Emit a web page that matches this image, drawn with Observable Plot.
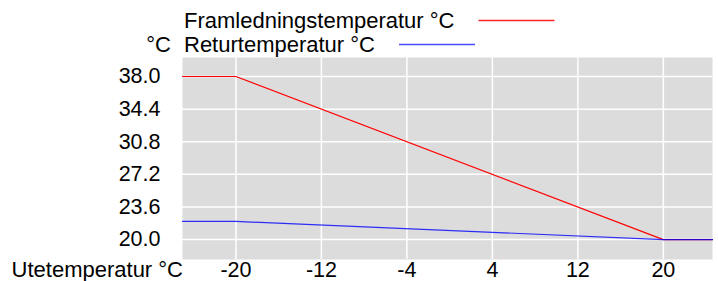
<!DOCTYPE html>
<html>
<head>
<meta charset="utf-8">
<script src="https://cdn.jsdelivr.net/npm/d3@7"></script>
<script src="https://cdn.jsdelivr.net/npm/@observablehq/plot@0.6"></script>
<style>
  html, body { margin: 0; padding: 0; background: #fff; }
  #wrap { position: relative; width: 718px; height: 281px; font-family: "Liberation Sans", Arial, sans-serif; }
  #wrap > svg { position: absolute; left: 0; top: 0; }
</style>
</head>
<body>
<div id="wrap"></div>
<script>
// ---- data ----
const outdoorTemp = [-25, -20, 20, 24.6];
const supplyTemp = [38, 38, 20, 20];
const returnTemp = [22, 22, 20, 20];
const seriesNames = ["Framledningstemperatur °C", "Returtemperatur °C"];
const seriesColors = ["#ff0000", "#0000ff"];
const xTicks = [-20, -12, -4, 4, 12, 20];
const yTicks = [20.0, 23.6, 27.2, 30.8, 34.4, 38.0];
const xLabel = "Utetemperatur °C";
const yLabel = "°C";

const supply = outdoorTemp.map((x, i) => ({x, y: supplyTemp[i]}));
const ret = outdoorTemp.map((x, i) => ({x, y: returnTemp[i]}));

const W = 718, H = 281;
const chart = Plot.plot({
  width: W, height: H,
  marginLeft: 182, marginRight: 6, marginTop: 57, marginBottom: 22,
  style: {fontFamily: '"Liberation Sans", Arial, sans-serif', fontSize: "21.5px", color: "#000", background: "transparent", overflow: "visible"},
  x: {domain: [-25, 24.6], ticks: xTicks, tickFormat: d => String(d), tickSize: 0, tickPadding: 2, label: null},
  y: {domain: [17.8, 40.1], ticks: yTicks, tickFormat: d3.format(".1f"), tickSize: 0, tickPadding: 22, label: null},
  marks: [
    Plot.frame({fill: "#dcdcdc", stroke: null}),
    Plot.gridX(xTicks, {stroke: "#fff", strokeOpacity: 1, strokeWidth: 1.5}),
    Plot.gridY(yTicks, {stroke: "#fff", strokeOpacity: 1, strokeWidth: 1.5}),
    Plot.line(supply, {x: "x", y: "y", stroke: seriesColors[0], strokeWidth: 1.2}),
    Plot.line(ret, {x: "x", y: "y", stroke: seriesColors[1], strokeWidth: 1.2, strokeOpacity: 0.8})
  ]
});
document.getElementById("wrap").appendChild(chart);

// ---- legend & axis titles overlay ----
const ns = "http://www.w3.org/2000/svg";
const ov = document.createElementNS(ns, "svg");
ov.setAttribute("width", W); ov.setAttribute("height", H);
ov.style.pointerEvents = "none";
document.getElementById("wrap").appendChild(ov);
function txt(s, x, y, anchor) {
  const t = document.createElementNS(ns, "text");
  t.setAttribute("x", x); t.setAttribute("y", y);
  t.setAttribute("text-anchor", anchor || "start");
  t.setAttribute("font-family", '"Liberation Sans", Arial, sans-serif');
  t.setAttribute("font-size", "22px");
  t.setAttribute("fill", "#000");
  t.textContent = s;
  ov.appendChild(t);
  return t;
}
const legendRows = [{y: 28, ly: 20.5}, {y: 52, ly: 44.5}];
seriesNames.forEach((name, i) => {
  const t = txt(name, 184, legendRows[i].y);
  const end = 184 + t.getComputedTextLength();
  const l = document.createElementNS(ns, "line");
  l.setAttribute("x1", end + 24); l.setAttribute("x2", end + 100);
  l.setAttribute("y1", legendRows[i].ly); l.setAttribute("y2", legendRows[i].ly);
  l.setAttribute("stroke", seriesColors[i]);
  l.setAttribute("stroke-opacity", i === 1 ? 0.7 : 0.85);
  l.setAttribute("stroke-width", 1.3);
  ov.appendChild(l);
});
txt(yLabel, 171, 52, "end");
txt(xLabel, 183, 276.5, "end");
</script>
</body>
</html>
